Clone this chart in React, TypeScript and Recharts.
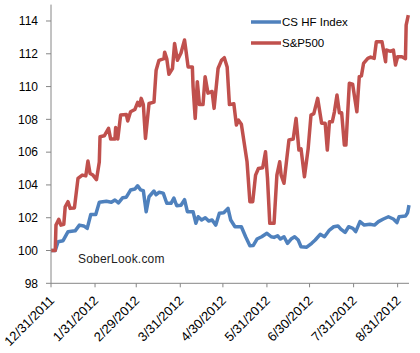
import { Legend, Line, LineChart, XAxis, YAxis } from "recharts";

// days since 12/31/2011
const hfDays = [
  0, 3, 5, 8.5, 12, 17, 20, 23, 25.5, 28, 31.5, 34, 39, 42.5, 45, 47.5, 50.5, 53, 56, 59, 61, 63, 65,
  67, 69, 72.5, 74, 76, 79, 81.5, 84.5, 86.5, 88.5, 91.5, 94, 96, 100, 102, 103.6, 106, 108.6, 111,
  113.4, 116, 118.5, 121.6, 124.6, 126.5, 129.5, 134, 137, 140, 142.3, 145, 148.3, 152, 155, 157,
  159.5, 161.5, 164, 166.5, 169, 171.5, 174, 176, 180, 183.5, 186, 189.5, 192.5, 196, 199, 202, 204,
  207, 209.5, 212.5, 214.5, 217.5, 220.5, 224.5, 227.7, 230.5, 234, 237.5, 241, 243.5, 245, 249.5,
  251, 252,
];
const hfValues = [
  100, 100, 100.54, 100.6, 101.15, 101.2, 101.55, 101.5, 101.35, 102.2, 102.2, 102.94, 103.0, 102.94,
  103.08, 102.9, 103.22, 103.25, 103.69, 103.75, 103.95, 103.7, 103.65, 102.37, 103.28, 103.63,
  103.4, 103.55, 103.5, 102.88, 102.88, 103.2, 102.73, 102.76, 103.1, 102.37, 102.37, 101.66,
  102.06, 101.86, 102.0, 101.8, 101.86, 101.55, 102.27, 102.3, 102.57, 101.86, 101.45, 101.45,
  100.84, 100.29, 100.3, 100.7, 100.84, 101.05, 100.84, 100.8, 100.9, 100.7, 100.84, 100.44, 100.7,
  100.84, 100.64, 100.23, 100.2, 100.44, 100.64, 100.99, 100.84, 101.25, 101.45, 101.5, 101.3,
  101.1, 101.45, 101.35, 101.15, 101.76, 101.55, 101.6, 101.55, 101.76, 101.92, 102.06, 101.92,
  101.7, 102.06, 102.1, 102.3, 102.77,
];

const spxDays = [
  0, 3, 3.5, 5.5, 7, 9, 10, 12, 13.5, 16.5, 19, 22, 24.5, 26, 27.5, 29.5, 32, 34, 34.5, 37.5, 40.5,
  42, 45, 45.5, 47, 49, 53, 54, 56, 59, 61, 62.5, 63.5, 65, 66.5, 69, 72.5, 74, 76, 79.5, 80, 81.5,
  83, 85.5, 87, 89, 91.5, 94, 95, 96.5, 99.5, 100, 101.5, 103, 104.5, 107, 108.5, 110.5, 113.4,
  114.8, 117.6, 120, 122, 124, 125.6, 128.7, 130.5, 132, 134, 138, 140, 142, 144, 146, 149, 151,
  152.4, 154, 157, 159, 161, 162, 164, 166, 167.5, 170.5, 172.5, 174.5, 176, 178.4, 181, 183, 185,
  187.7, 190.5, 193, 194.5, 196, 198, 199.5, 201.3, 203, 204.6, 206.5, 207.6, 210, 212.3, 215.3,
  217, 218.5, 220, 223, 225, 227.5, 229, 233, 235.5, 236, 239, 241, 242.5, 244, 247, 249.5, 250,
  251.5,
];
const spxValues = [
  100, 100, 101.55, 101.9, 101.55, 101.6, 102.67, 102.98, 102.57, 102.6, 104.4, 104.6, 104.55,
  105.46, 104.7, 104.6, 104.32, 105.4, 106.94, 107.0, 107.45, 106.8, 106.8, 107.5, 106.8, 108.26,
  108.3, 107.9, 108.46, 108.6, 109.04, 108.83, 109.28, 108.9, 106.84, 108.97, 109.05, 111.0, 111.6,
  111.7, 112.1, 111.7, 110.75, 111.1, 112.63, 111.6, 112.05, 112.84, 112.2, 111.2, 111.2, 110.0,
  108.06, 110.3, 108.9, 108.9, 110.6, 109.6, 109.7, 108.67, 111.1, 111.6, 111.76, 111.2, 108.9,
  108.95, 107.65, 107.95, 107.7, 105.41, 102.98, 102.98, 104.6, 105.0, 105.05, 106.02, 104.4,
  101.66, 101.66, 104.6, 105.41, 104.6, 104.1, 105.62, 106.74, 106.8, 108.06, 106.13, 106.2, 104.5,
  106.2, 108.26, 108.35, 109.28, 107.76, 107.76, 106.13, 107.85, 107.85, 108.46, 109.48, 108.4,
  108.4, 106.43, 106.43, 110.2, 110.15, 108.46, 110.6, 110.65, 111.41, 111.72, 111.8, 111.72,
  112.73, 112.73, 111.51, 112.23, 112.15, 112.23, 111.31, 111.82, 111.82, 111.7, 113.75, 114.36,
];

const tickDays = [0, 31, 60, 91, 121, 152, 182, 213, 244];
const tickLabels = [
  "12/31/2011", "1/31/2012", "2/29/2012", "3/31/2012", "4/30/2012",
  "5/31/2012", "6/30/2012", "7/31/2012", "8/31/2012",
];
const yTicks = [98, 100, 102, 104, 106, 108, 110, 112, 114];

const seriesNames = ["CS HF Index", "S&P500"];
const seriesColors = ["#4F81BD", "#C0504D"];

const hfData = hfDays.map((d, i) => ({ day: d, value: hfValues[i] }));
const spxData = spxDays.map((d, i) => ({ day: d, value: spxValues[i] }));

const FONT = "'Liberation Sans', Arial, sans-serif";
const AXIS = "#868686";

function DateTick(props: any) {
  const { x, y, payload } = props;
  const idx = tickDays.indexOf(payload.value);
  const ax = x + 4;
  const ay = y + 12;
  return (
    <text
      x={ax}
      y={ay}
      textAnchor="end"
      transform={`rotate(-45, ${ax}, ${ay})`}
      fontSize={13}
      fontFamily={FONT}
      fill="#000"
    >
      {idx >= 0 ? tickLabels[idx] : ""}
    </text>
  );
}

function LegendBox() {
  return (
    <div style={{ fontFamily: FONT, fontSize: 11.5, color: "#000" }}>
      {seriesNames.map((n, i) => (
        <div key={n} style={{ display: "flex", alignItems: "center", height: 21.6 }}>
          <svg width={30} height={6} style={{ marginRight: 1 }}>
            <line x1={0} y1={3} x2={30} y2={3} stroke={seriesColors[i]} strokeWidth={3.5} />
          </svg>
          <span>{n}</span>
        </div>
      ))}
    </div>
  );
}

export default function App() {
  return (
    <div style={{ position: "absolute", left: 0, top: 0, width: 420, height: 353, background: "#fff" }}>
      <LineChart width={420} height={353} margin={{ top: 4.6, right: 11, bottom: 10, left: 0 }}>
        <XAxis
          type="number"
          dataKey="day"
          domain={[0, 252]}
          ticks={tickDays}
          interval={0}
          tick={<DateTick />}
          tickSize={4}
          tickMargin={2}
          height={59.7}
          stroke={AXIS}
          allowDuplicatedCategory={false}
        />
        <YAxis
          type="number"
          domain={[98, 115]}
          ticks={yTicks}
          interval={0}
          width={51}
          tickSize={5}
          tickMargin={8}
          stroke={AXIS}
          tick={{ fill: "#000", fontSize: 12, fontFamily: FONT }}
        />
        <Legend
          layout="horizontal"
          align="center"
          verticalAlign="middle"
          content={<LegendBox />}
          wrapperStyle={{ left: 251, top: 11, width: 140 }}
        />
        <Line
          data={hfData}
          dataKey="value"
          name={seriesNames[0]}
          stroke={seriesColors[0]}
          strokeWidth={3.5}
          dot={false}
          strokeLinejoin="round"
          isAnimationActive={false}
        />
        <Line
          data={spxData}
          dataKey="value"
          name={seriesNames[1]}
          stroke={seriesColors[1]}
          strokeWidth={3.5}
          dot={false}
          strokeLinejoin="round"
          isAnimationActive={false}
        />
      </LineChart>
      <div
        style={{
          position: "absolute",
          left: 78,
          top: 252,
          fontFamily: FONT,
          fontSize: 12,
          letterSpacing: 0.2,
          color: "#222",
        }}
      >
        SoberLook.com
      </div>
    </div>
  );
}
